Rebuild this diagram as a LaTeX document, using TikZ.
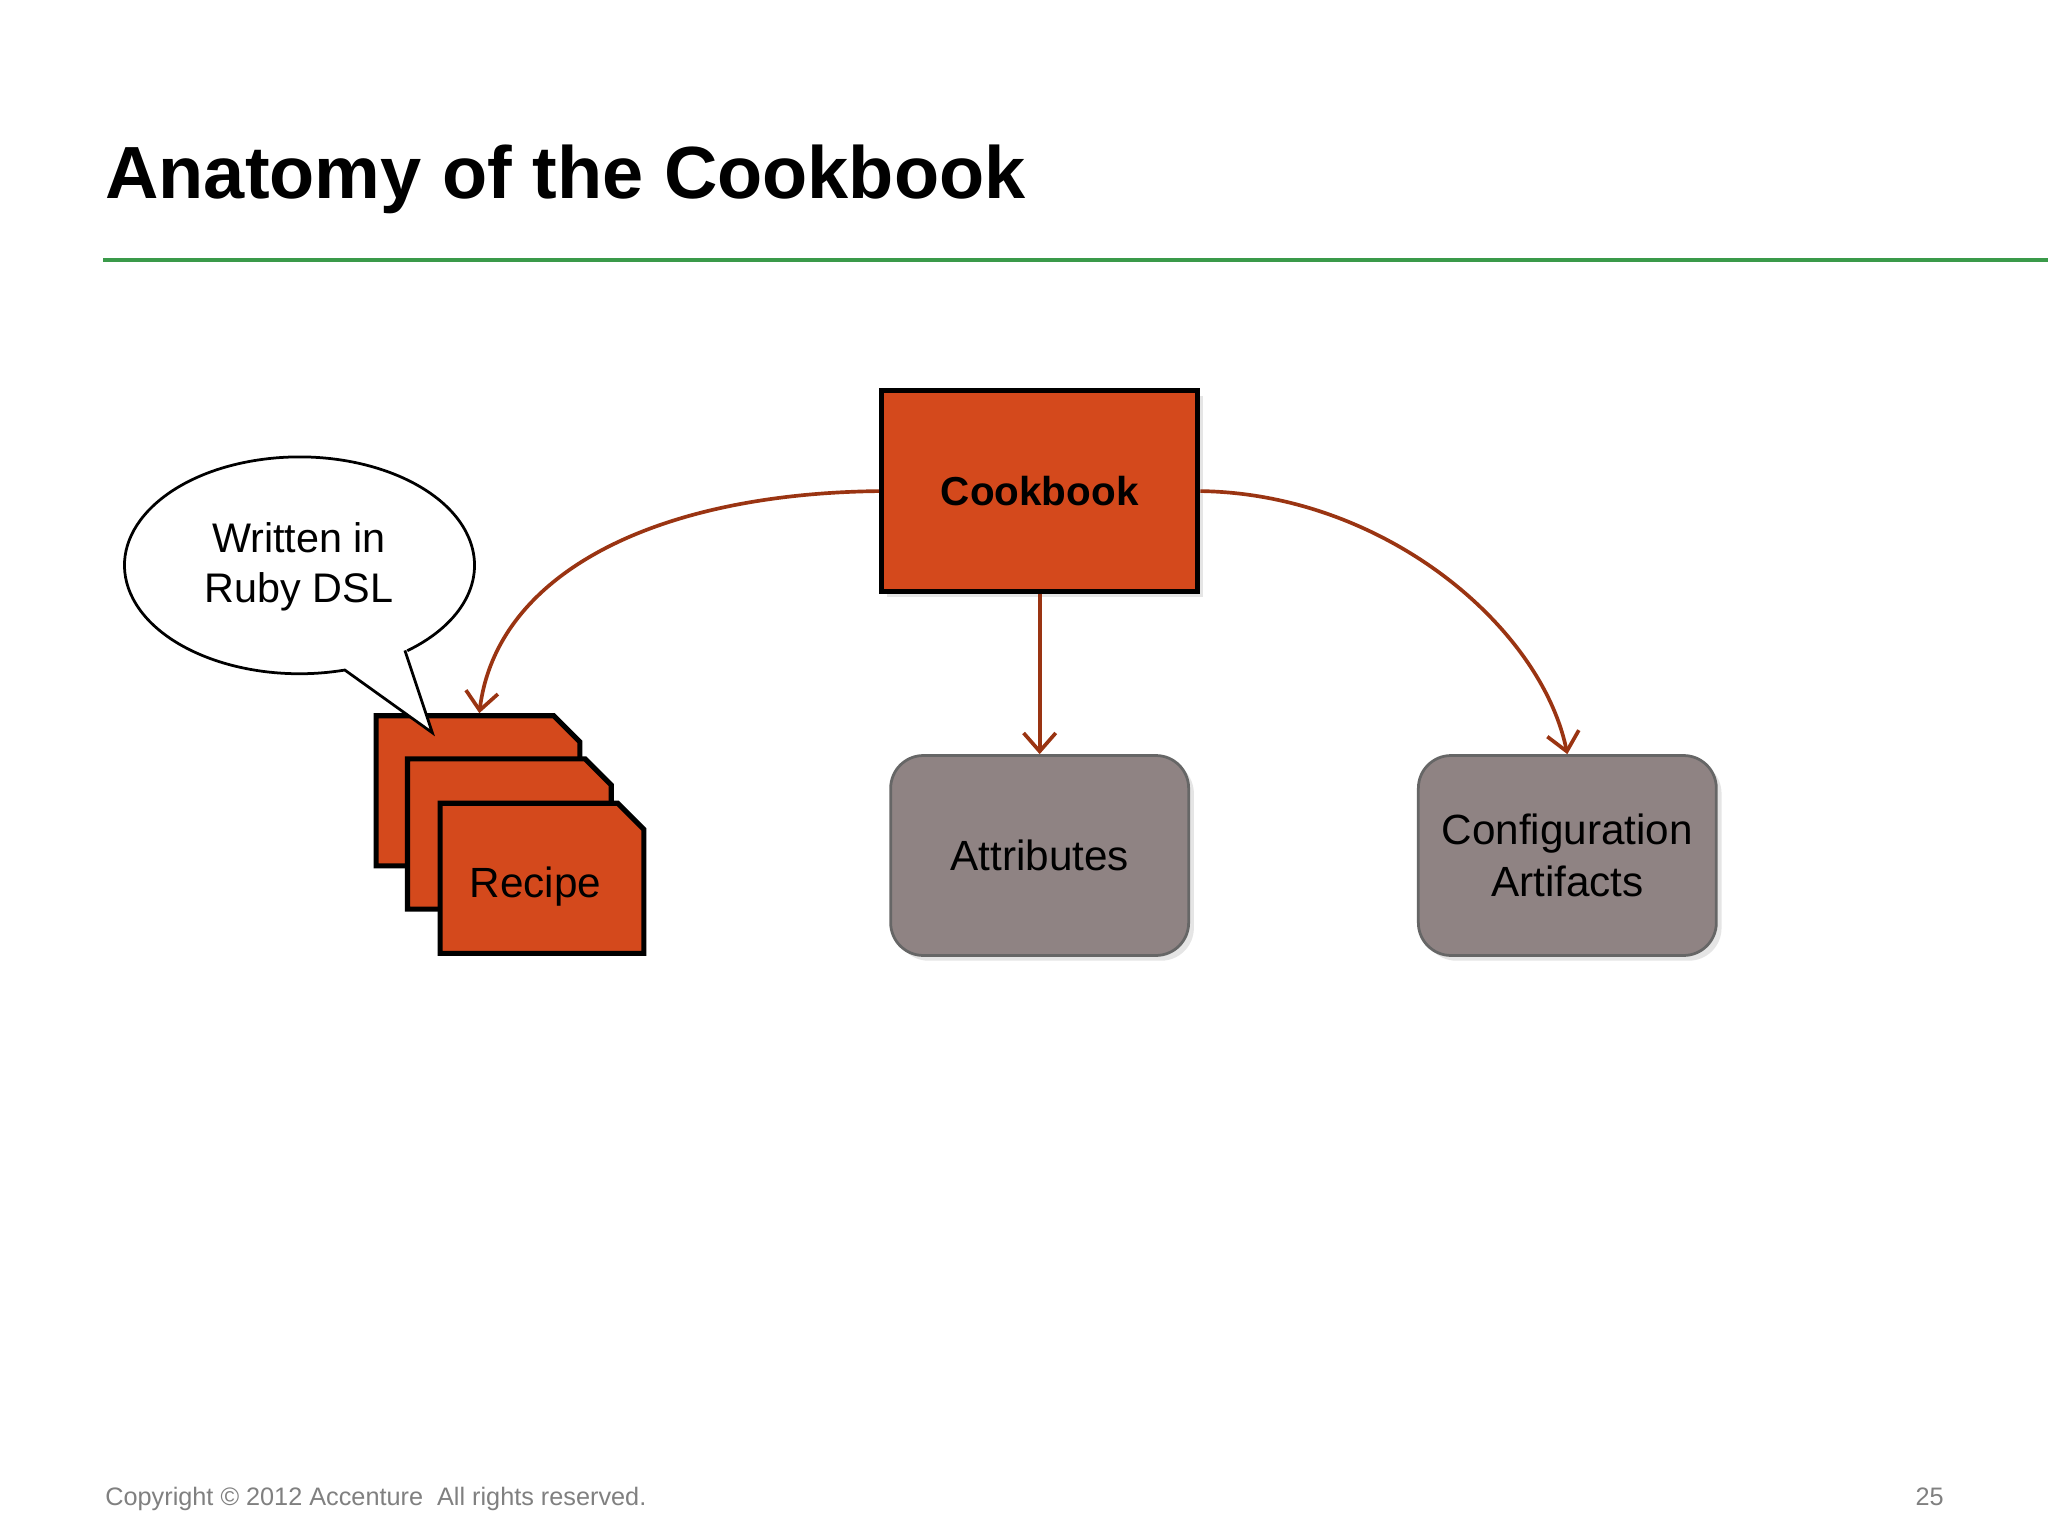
\documentclass[tikz,border=0pt]{standalone}
\usepackage{fontspec}
\setmainfont{Liberation Sans}
\usetikzlibrary{shadows,arrows.meta}
\definecolor{cbOrange}{HTML}{D4491C}
\definecolor{cbGray}{HTML}{8F8383}
\definecolor{cbArrow}{HTML}{9A3412}
\definecolor{cbGreen}{HTML}{3A9A4A}
\tikzset{
  soft/.style={drop shadow={opacity=0.2,shadow xshift=0.04cm,shadow yshift=-0.04cm}},
  orangebox/.style={draw=black,line width=1.1pt,fill=cbOrange,soft},
  graybox/.style={draw=gray!80!black,line width=0.6pt,fill=cbGray,rounded corners=0.25cm,soft},
  link/.style={draw=cbArrow,line width=0.8pt,-{Straight Barb[length=4pt,width=7pt]}},
  page/.style={draw=black,line width=1.1pt,fill=cbOrange}
}
\begin{document}
\begin{tikzpicture}[x=0.01cm,y=-0.01cm]
\useasboundingbox[fill=white] (0,0) rectangle (1568,1176);
% title and rule
\node[anchor=base west,inner sep=0,font=\fontsize{16.1}{19}\selectfont\bfseries] (title) at (80,152) {Anatomy of the Cookbook};
\draw[cbGreen,line width=0.7pt] (79,199) -- (1568,199);
% cookbook
\node[orangebox,minimum width=2.42cm,minimum height=1.54cm,font=\fontsize{8.8}{11}\selectfont\bfseries] (cook) at (796,376) {Cookbook};
\node[graybox,minimum width=2.28cm,minimum height=1.53cm,font=\fontsize{9.2}{11.2}\selectfont,align=center] (attr) at (796,655) {Attributes};
\node[graybox,minimum width=2.28cm,minimum height=1.53cm,font=\fontsize{9.2}{11.2}\selectfont,align=center] (conf) at (1200,655) {Configuration\\Artifacts};
% recipe pages
\foreach \dx/\dy in {0/0,24/33,49/67}{
  \draw[page] (288+\dx,548+\dy) -- (424+\dx,548+\dy) -- (444+\dx,568+\dy) -- (444+\dx,663+\dy) -- (288+\dx,663+\dy) -- cycle;
}
\node[font=\fontsize{9.2}{11.2}\selectfont] (recipe) at (410,679) {Recipe};
\coordinate (rtop) at (367,546);
% speech bubble
\draw[fill=white,line width=0.6pt] (310,498) -- (331,561) -- (264,513)
  arc[start angle=75,end angle=412,x radius=134,y radius=83];
\node[font=\fontsize{9}{11}\selectfont,align=center] (bubble) at (229,434) {Written in\\Ruby DSL};
% connectors
\draw[link] (cook.west) .. controls (500,378) and (380,440) .. (rtop);
\draw[link] (cook.south) -- (attr.north);
\draw[link] (cook.east) .. controls (1060,378) and (1180,480) .. (conf.north);
% footer
\node[anchor=base west,inner sep=0,text=gray,font=\fontsize{5.5}{7}\selectfont] (copy) at (80,1153) {Copyright © 2012 Accenture\ \ All rights reserved.};
\node[anchor=base west,inner sep=0,text=gray,font=\fontsize{5.5}{7}\selectfont] (pnum) at (1466,1153) {25};
\end{tikzpicture}
\end{document}
